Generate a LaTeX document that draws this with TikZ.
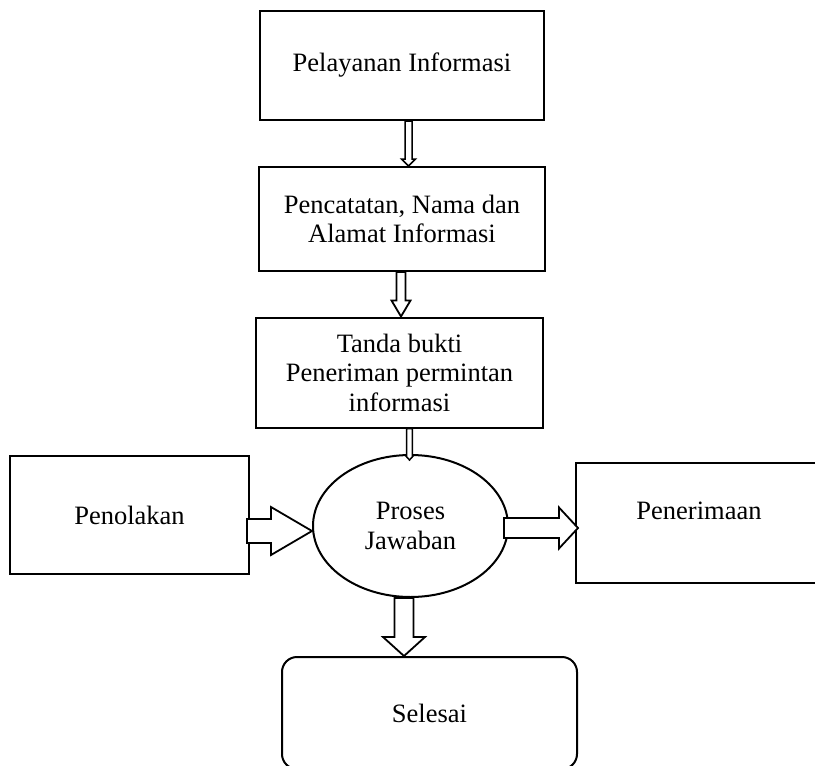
\documentclass[tikz,border=0pt]{standalone}
\usepackage{fontspec}
\setmainfont{Liberation Serif}
\usetikzlibrary{shapes.geometric, calc}
\tikzstyle{block} = [rectangle, text centered, align=center, draw=black, line width=2pt, inner sep=0pt]
\tikzstyle{oval} = [ellipse, text centered, align=center, draw=black, line width=2pt, inner sep=0pt, minimum width=195pt, minimum height=142pt]
\tikzstyle{endbox} = [block, rounded corners=15pt]
\tikzset{
  varrow/.style n args={3}{draw=black, fill=white, line width=1.8pt, to path={let \p1=(\tikztostart), \p2=(\tikztotarget) in
    ({\x1-#1},\y1) -- ({\x1-#1},{\y2+#3}) -- ({\x1-#2},{\y2+#3}) -- (\x1,\y2) -- ({\x1+#2},{\y2+#3}) -- ({\x1+#1},{\y2+#3}) -- ({\x1+#1},\y1) -- cycle}},
  harrow/.style n args={3}{draw=black, fill=white, line width=1.8pt, to path={let \p1=(\tikztostart), \p2=(\tikztotarget) in
    (\x1,{\y1+#1}) -- ({\x2-#3},{\y1+#1}) -- ({\x2-#3},{\y1+#2}) -- (\x2,\y1) -- ({\x2-#3},{\y1-#2}) -- ({\x2-#3},{\y1-#1}) -- (\x1,{\y1-#1}) -- cycle}}
}

\begin{document}
\begin{tikzpicture}[x=1pt, y=-1pt, node distance=153.5pt, font=\fontsize{26.5pt}{29.5pt}\selectfont]
        \useasboundingbox (0,0) rectangle (815,766);
        \node (info) [block, minimum width=284pt, minimum height=109pt] at (402,65.5) {Pelayanan Informasi};
        \node (catat) [block, minimum width=286pt, minimum height=104pt, below of=info] {Pencatatan, Nama dan\\Alamat Informasi};
        \node (bukti) [block, minimum width=287pt, minimum height=110pt, below of=catat, xshift=-2.5pt] {Tanda bukti\\Peneriman permintan\\informasi};
        \node (proses) [oval, below of=bukti, xshift=11pt] {Proses\\Jawaban};
        \node (tolak) [block, minimum width=239pt, minimum height=118pt, left of=proses, xshift=-127.5pt, yshift=11pt] {Penolakan};
        \node (terima) [block, minimum width=246pt, minimum height=120pt, text height=18pt, text depth=26pt, right of=proses, xshift=135pt, yshift=3pt] {Penerimaan};
        \node (selesai) [endbox, minimum width=295pt, minimum height=112pt, below of=proses, xshift=19pt, yshift=-33.5pt] {Selesai};

        \draw [varrow={3.5pt}{7pt}{7pt}, line width=1.5pt] ([xshift=6.5pt]info.south) to (catat.north);
        \draw [varrow={4.5pt}{9.5pt}{16pt}] ([xshift=-1pt]catat.south) to (bukti.north);
        \draw [varrow={2.8pt}{4.5pt}{5pt}, line width=1.5pt] ([xshift=10pt]bukti.south) to ([yshift=-6pt]proses.north);
        \draw [harrow={12pt}{24pt}{41pt}] ([xshift=-3pt, yshift=-16pt]tolak.east) to (proses.west);
        \draw [harrow={10pt}{20.5pt}{19pt}] ([xshift=-5pt, yshift=-2pt]proses.east) to ([xshift=3pt]terima.west);
        \draw [varrow={9.5pt}{21pt}{19pt}] ([xshift=-6.5pt]proses.south) to (selesai.north);
\end{tikzpicture}
\end{document}
